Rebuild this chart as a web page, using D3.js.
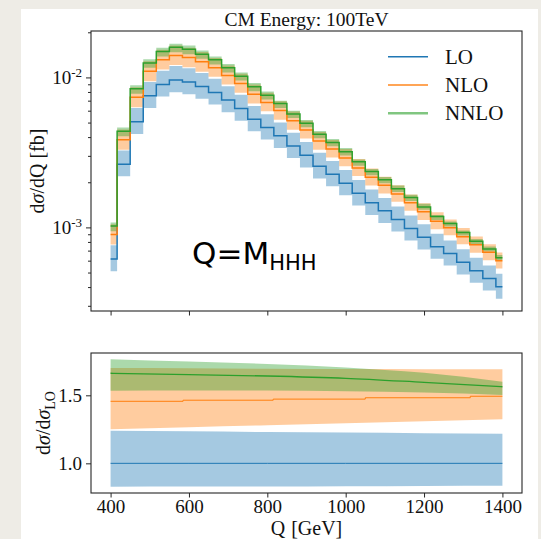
<!DOCTYPE html>
<html lang="en">
<head>
<meta charset="UTF-8">
<title>CM Energy: 100TeV</title>
<script src="https://d3js.org/d3.v7.min.js"></script>
<style>
  html, body { margin: 0; padding: 0; background: #eeece6; }
  svg { display: block; }
  .serif { font-family: "Liberation Serif", "DejaVu Serif", serif; fill: #111; }
  .tick line { stroke: #262626; stroke-width: 1; }
</style>
</head>
<body>
<div id="chart"></div>
<script>
// bin centres (GeV)
const binQ = [400, 433.3, 466.7, 500, 533.3, 566.7, 600, 633.3, 666.7, 700, 733.3,
  766.7, 800, 833.3, 866.7, 900, 933.3, 966.7, 1000, 1033.3, 1066.7, 1100, 1133.3,
  1166.7, 1200, 1233.3, 1266.7, 1300, 1333.3, 1366.7, 1400];

// dsigma/dQ, in units of 1e-3 fb
const lo = [0.615, 2.64, 5.06, 7.54, 8.98, 9.60, 9.31, 8.69, 7.94, 7.06, 6.21,
  5.27, 4.64, 4.08, 3.49, 3.03, 2.56, 2.26, 1.97, 1.69, 1.46, 1.29, 1.13,
  0.985, 0.858, 0.743, 0.671, 0.585, 0.514, 0.457, 0.402];
const loHigh = [0.760, 3.26, 6.25, 9.31, 11.1, 11.9, 11.5, 10.7, 9.81, 8.72, 7.67,
  6.46, 5.68, 5.00, 4.28, 3.71, 3.14, 2.77, 2.41, 2.07, 1.79, 1.57, 1.38,
  1.20, 1.05, 0.906, 0.819, 0.714, 0.627, 0.558, 0.490];
const loLow = [0.510, 2.19, 4.20, 6.26, 7.45, 7.97, 7.73, 7.21, 6.59, 5.86, 5.15,
  4.37, 3.85, 3.39, 2.90, 2.51, 2.12, 1.88, 1.64, 1.40, 1.21, 1.07, 0.938,
  0.818, 0.712, 0.617, 0.557, 0.486, 0.427, 0.379, 0.334];

const nlo = [0.895, 3.84, 7.37, 11.0, 13.1, 14.0, 13.6, 12.7, 11.6, 10.3, 9.10,
  7.72, 6.80, 6.01, 5.14, 4.46, 3.77, 3.33, 2.90, 2.49, 2.16, 1.91, 1.67,
  1.46, 1.27, 1.10, 0.994, 0.867, 0.767, 0.682, 0.600];
const nloHigh = [1.05, 4.49, 8.60, 12.8, 15.3, 16.3, 15.8, 14.8, 13.5, 12.0, 10.6,
  8.96, 7.89, 6.94, 5.93, 5.15, 4.33, 3.82, 3.33, 2.86, 2.47, 2.18, 1.91,
  1.66, 1.45, 1.26, 1.13, 0.989, 0.869, 0.772, 0.679];
const nloLow = [0.769, 3.30, 6.33, 9.43, 11.3, 12.1, 11.7, 10.9, 10.1, 8.97, 7.89,
  6.69, 5.94, 5.22, 4.47, 3.91, 3.30, 2.92, 2.56, 2.20, 1.90, 1.68, 1.48,
  1.29, 1.12, 0.973, 0.886, 0.772, 0.678, 0.603, 0.531];

const nnlo = [1.022, 4.38, 8.39, 12.5, 14.9, 15.9, 15.4, 14.3, 13.1, 11.6, 10.2,
  8.66, 7.62, 6.69, 5.71, 4.95, 4.18, 3.68, 3.20, 2.74, 2.36, 2.08, 1.81,
  1.58, 1.37, 1.18, 1.063, 0.924, 0.809, 0.717, 0.628];
const nnloHigh = [1.079, 4.63, 8.88, 13.2, 15.8, 16.8, 16.3, 15.1, 13.8, 12.3, 10.8,
  9.17, 8.07, 7.00, 5.99, 5.20, 4.39, 3.88, 3.38, 2.84, 2.45, 2.17, 1.90,
  1.65, 1.44, 1.21, 1.094, 0.954, 0.838, 0.745, 0.655];
const nnloLow = [0.944, 4.05, 7.77, 11.6, 13.8, 14.7, 14.3, 13.3, 12.2, 10.8, 9.53,
  8.09, 7.12, 6.26, 5.36, 4.65, 3.93, 3.47, 3.02, 2.58, 2.23, 1.97, 1.72,
  1.50, 1.31, 1.12, 1.013, 0.883, 0.776, 0.690, 0.607];

// ratio panel (relative to LO)
const ratioQ = [400, 600, 800, 1000, 1200, 1400];
const loRatio = [1, 1, 1, 1, 1, 1];
const loRatioHigh = [1.240, 1.235, 1.230, 1.226, 1.222, 1.218];
const loRatioLow = [0.828, 0.829, 0.830, 0.832, 0.834, 0.835];
const nloRatioHigh = [1.700, 1.698, 1.695, 1.693, 1.692, 1.691];
const nloRatioLow = [1.250, 1.265, 1.280, 1.295, 1.310, 1.324];
const nnloRatio = [1.662, 1.652, 1.642, 1.625, 1.595, 1.563];
const nnloRatioHigh = [1.765, 1.748, 1.730, 1.705, 1.665, 1.600];
const nnloRatioLow = [1.534, 1.536, 1.535, 1.530, 1.520, 1.502];
const nloStepQ = [400, 585, 815, 1050, 1318, 1400];
const nloStepRatio = [1.456, 1.464, 1.472, 1.482, 1.493, 1.493];

// ticks
const xTicks = [400, 600, 800, 1000, 1200, 1400];
const yMajor = [1e-3, 1e-2];
const yMajorExp = ["-3", "-2"];
const yMinor = [3e-4, 4e-4, 5e-4, 6e-4, 7e-4, 8e-4, 9e-4,
  2e-3, 3e-3, 4e-3, 5e-3, 6e-3, 7e-3, 8e-3, 9e-3, 2e-2];
const rTicks = [1.0, 1.5];

const colors = { lo: "#1f77b4", nlo: "#ff7f0e", nnlo: "#2ca02c" };

const W = 541, H = 539;
const svg = d3.select("#chart").append("svg")
  .attr("width", W).attr("height", H);

// white card
svg.append("rect").attr("x", 21).attr("y", 9).attr("width", 517).attr("height", H - 9)
  .attr("fill", "#ffffff");

const left = 91, right = 522;
const top1 = 31, bot1 = 311, top2 = 353, bot2 = 493;

const x = d3.scaleLinear().domain([350, 1450]).range([left, right]);
const y = d3.scaleLog().domain([2.77e-4, 0.0204]).range([bot1, top1]);
const yr = d3.scaleLinear().domain([0.782, 1.811]).range([bot2, top2]);

// ---- top panel ----
const p1 = svg.append("g");

function band(low, high) {
  return d3.area()
    .x((d, i) => x(binQ[i]))
    .y0((d, i) => y(low[i] * 1e-3))
    .y1((d, i) => y(high[i] * 1e-3))
    .curve(d3.curveStep)(binQ);
}
function stepLine(vals) {
  return d3.line()
    .x((d, i) => x(binQ[i]))
    .y(d => y(d * 1e-3))
    .curve(d3.curveStep)(vals);
}

p1.append("path").attr("d", band(loLow, loHigh)).attr("fill", colors.lo).attr("fill-opacity", 0.4);
p1.append("path").attr("d", band(nloLow, nloHigh)).attr("fill", colors.nlo).attr("fill-opacity", 0.4);
p1.append("path").attr("d", band(nnloLow, nnloHigh)).attr("fill", colors.nnlo).attr("fill-opacity", 0.4);

[[lo, colors.lo], [nlo, colors.nlo], [nnlo, colors.nnlo]].forEach(([vals, c]) => {
  p1.append("path").attr("d", stepLine(vals)).attr("fill", "none")
    .attr("stroke", c).attr("stroke-width", 1.5);
});

// axes top
const gx1 = svg.append("g").attr("transform", `translate(0,${bot1})`)
  .call(d3.axisBottom(x).tickValues(xTicks).tickSize(4.5).tickFormat(""));
gx1.select(".domain").remove();

const gy1 = svg.append("g").attr("transform", `translate(${left},0)`)
  .call(d3.axisLeft(y).tickValues(yMajor).tickSize(5).tickFormat(""));
gy1.select(".domain").remove();
gy1.selectAll(".tick text").remove();
gy1.selectAll(".tick").each(function(d, i) {
  const t = d3.select(this).append("text").attr("class", "serif")
    .attr("x", -9).attr("y", 6.5).attr("text-anchor", "end")
    .style("font-size", "19px");
  t.append("tspan").text("10");
  t.append("tspan").attr("dy", -7).style("font-size", "13px").text(yMajorExp[i]);
});
const gy1m = svg.append("g").attr("transform", `translate(${left},0)`)
  .call(d3.axisLeft(y).tickValues(yMinor).tickSize(3).tickFormat(""));
gy1m.select(".domain").remove();
gy1m.selectAll(".tick text").remove();
gx1.selectAll(".tick text").remove();

svg.append("rect").attr("x", left).attr("y", top1)
  .attr("width", right - left).attr("height", bot1 - top1)
  .attr("fill", "none").attr("stroke", "#262626").attr("stroke-width", 1.1);

// title
svg.append("text").attr("class", "serif").attr("x", (left + right) / 2).attr("y", 26)
  .attr("text-anchor", "middle").style("font-size", "19.5px").text("CM Energy: 100TeV");

// y label top
const yl1 = svg.append("text").attr("class", "serif")
  .attr("transform", `translate(44,${(top1 + bot1) / 2}) rotate(-90)`)
  .attr("text-anchor", "middle").style("font-size", "20px");
yl1.append("tspan").text("d");
yl1.append("tspan").style("font-style", "italic").text("σ");
yl1.append("tspan").text("/dQ [fb]");

// legend
const legendItems = [
  { name: "LO", color: colors.lo, w: 1.5, op: 1 },
  { name: "NLO", color: colors.nlo, w: 2, op: 0.7 },
  { name: "NNLO", color: colors.nnlo, w: 2.5, op: 0.6 }
];
const lg = svg.append("g");
legendItems.forEach((it, i) => {
  const ly = 56.7 + i * 28.3;
  lg.append("line").attr("x1", 388).attr("x2", 428).attr("y1", ly).attr("y2", ly)
    .attr("stroke", it.color).attr("stroke-width", it.w).attr("stroke-opacity", it.op);
  lg.append("text").attr("class", "serif").attr("x", 445).attr("y", ly + 7)
    .style("font-size", "21px").text(it.name);
});

// annotation
const ann = svg.append("text").attr("x", 192).attr("y", 264)
  .style("font-family", "'DejaVu Sans', sans-serif").style("font-size", "31px").attr("fill", "#000");
ann.append("tspan").text("Q=M");
ann.append("tspan").attr("dy", 6).style("font-size", "21px").text("HHH");

// ---- ratio panel ----
const p2 = svg.append("g");
function rBand(low, high) {
  return d3.area()
    .x((d, i) => x(ratioQ[i]))
    .y0((d, i) => yr(low[i]))
    .y1((d, i) => yr(high[i]))
    .curve(d3.curveMonotoneX)(ratioQ);
}
p2.append("path").attr("d", rBand(loRatioLow, loRatioHigh)).attr("fill", colors.lo).attr("fill-opacity", 0.4);
p2.append("path").attr("d", rBand(nloRatioLow, nloRatioHigh)).attr("fill", colors.nlo).attr("fill-opacity", 0.4);
p2.append("path").attr("d", rBand(nnloRatioLow, nnloRatioHigh)).attr("fill", colors.nnlo).attr("fill-opacity", 0.4);

p2.append("path")
  .attr("d", d3.line().x((d, i) => x(ratioQ[i])).y(d => yr(d))(loRatio))
  .attr("fill", "none").attr("stroke", colors.lo).attr("stroke-width", 1);
p2.append("path")
  .attr("d", d3.line().x((d, i) => x(nloStepQ[i])).y(d => yr(d)).curve(d3.curveStepAfter)(nloStepRatio))
  .attr("fill", "none").attr("stroke", colors.nlo).attr("stroke-width", 1);
p2.append("path")
  .attr("d", d3.line().x((d, i) => x(ratioQ[i])).y(d => yr(d)).curve(d3.curveMonotoneX)(nnloRatio))
  .attr("fill", "none").attr("stroke", colors.nnlo).attr("stroke-width", 1.3);

const gx2 = svg.append("g").attr("transform", `translate(0,${bot2})`)
  .call(d3.axisBottom(x).tickValues(xTicks).tickSize(4.5).tickPadding(2).tickFormat(d3.format("d")));
gx2.select(".domain").remove();
gx2.selectAll("text").attr("class", "serif").style("font-size", "19px").attr("fill", "#111");

const gy2 = svg.append("g").attr("transform", `translate(${left},0)`)
  .call(d3.axisLeft(yr).tickValues(rTicks).tickSize(5).tickPadding(4).tickFormat(d3.format(".1f")));
gy2.select(".domain").remove();
gy2.selectAll("text").attr("class", "serif").style("font-size", "19px").attr("fill", "#111");

svg.append("rect").attr("x", left).attr("y", top2)
  .attr("width", right - left).attr("height", bot2 - top2)
  .attr("fill", "none").attr("stroke", "#262626").attr("stroke-width", 1.1);

// x label
const xl = svg.append("text").attr("class", "serif").attr("x", (left + right) / 2).attr("y", 535)
  .attr("text-anchor", "middle").style("font-size", "20px");
xl.append("tspan").text("Q");
xl.append("tspan").attr("dx", 6).text("[GeV]");

// y label bottom
const yl2 = svg.append("text").attr("class", "serif")
  .attr("transform", `translate(50,${(top2 + bot2) / 2}) rotate(-90)`)
  .attr("text-anchor", "middle").style("font-size", "20px");
yl2.append("tspan").text("d");
yl2.append("tspan").style("font-style", "italic").text("σ");
yl2.append("tspan").text("/d");
yl2.append("tspan").style("font-style", "italic").text("σ");
yl2.append("tspan").attr("dy", 5).style("font-size", "14px").text("LO");
</script>
</body>
</html>
